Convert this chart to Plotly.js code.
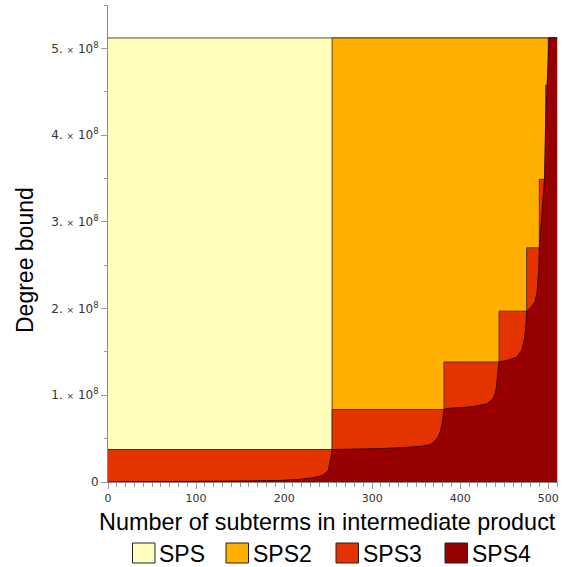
<!DOCTYPE html>
<html>
<head>
<meta charset="utf-8">
<script src="https://cdn.plot.ly/plotly-3.0.1.min.js"></script>
<style>html,body{margin:0;padding:0;background:#fff;}#chart{width:564px;height:567px;}</style>
</head>
<body>
<div id="chart"></div>
<script>
// ---- data ----
var seriesNames = ['SPS', 'SPS2', 'SPS3', 'SPS4'];
var seriesColors = ['#FFFFBB', '#FFB000', '#E53300', '#960000'];

// step series: edges (subterm index where each level starts, plus final end) and levels
var spsEdges = [0, 510];
var spsValues = [512e6];

var sps2Edges = [0, 254.5, 510];
var sps2Values = [37.4e6, 512e6];

var sps3Edges = [0, 254.5, 381.5, 444, 475.4, 489.8, 497, 500, 510];
var sps3Values = [37.4e6, 83.5e6, 138.4e6, 197e6, 270e6, 349e6, 457.5e6, 512e6];

// SPS4: sorted degree curve
var sps4X = [0, 60, 116, 160, 198, 218, 233, 244, 250, 252, 253.5, 254.5,
             280, 309, 330, 354, 365, 370, 375, 378, 380, 381.5,
             383, 411, 430, 437.5, 440.6, 442.5, 444,
             452.7, 464, 469.8, 472.7, 474.3, 475.4,
             479.2, 484.9, 487.5, 489, 489.8,
             492.4, 494, 495.6, 497, 498.2, 499.5, 500.8, 510];
var sps4Y = [0, 0.3e6, 0.8e6, 1.2e6, 1.9e6, 3.1e6, 5e6, 7.7e6, 13e6, 21e6, 30e6, 37.4e6,
             37.8e6, 38.5e6, 39.5e6, 41e6, 43e6, 46e6, 52e6, 60e6, 71e6, 83.5e6,
             84.7e6, 86.5e6, 90e6, 96e6, 106e6, 121e6, 138.4e6,
             140e6, 144e6, 152e6, 163e6, 179e6, 197e6,
             200e6, 208e6, 221e6, 244e6, 270e6,
             302e6, 325e6, 349e6, 417e6, 455.6e6, 490e6, 512e6, 512e6];

var xTickVals = [0, 100, 200, 300, 400, 500];
var yTickVals = [0, 1e8, 2e8, 3e8, 4e8, 5e8];
var yTickMantissa = ['0', '1.', '2.', '3.', '4.', '5.'];
var xTitle = 'Number of subterms in intermediate product';
var yTitle = 'Degree bound';

// ---- drawing ----
var yTickText = yTickMantissa.map(function (m, i) {
  return i === 0 ? m : m + ' <span style="font-size:9px">\u00d7</span> 10<sup>8</sup>';
});
function stepY(values) { return values.concat([values[values.length - 1]]); }
var outline = {color: 'rgba(70,40,15,0.85)', width: 1};

function stepTrace(name, color, edges, values) {
  return {
    type: 'scatter', mode: 'lines', name: name,
    x: edges, y: stepY(values),
    line: {shape: 'hv', color: outline.color, width: outline.width},
    fill: 'tozeroy', fillcolor: color,
    showlegend: false, hoverinfo: 'x+y+name'
  };
}

var traces = [
  stepTrace(seriesNames[0], seriesColors[0], spsEdges, spsValues),
  stepTrace(seriesNames[1], seriesColors[1], sps2Edges, sps2Values),
  stepTrace(seriesNames[2], seriesColors[2], sps3Edges, sps3Values),
  {
    type: 'scatter', mode: 'lines', name: seriesNames[3],
    x: sps4X, y: sps4Y,
    line: {shape: 'linear', color: 'rgba(60,0,0,0.9)', width: 1},
    fill: 'tozeroy', fillcolor: seriesColors[3],
    showlegend: false
  }
];

var W = 564, H = 567;
var M = {l: 108, r: 6, t: 5, b: 85};
var PW = W - M.l - M.r, PH = H - M.t - M.b;
function px2x(px) { return (px - M.l) / PW; }
function py2y(py) { return (H - M.b - py) / PH; }

var xTickFont = {family: 'DejaVu Sans', size: 11, color: '#333'};
var yTickFont = {family: 'DejaVu Sans', size: 12, color: '#333'};
var bigFont = {family: 'Liberation Sans, Arial, sans-serif', size: 23, color: '#000'};

// legend swatches/labels (pixel positions in the page)
var legendPos = [
  {x0: 132.5, x1: 155}, {x0: 226, x1: 248.5}, {x0: 336, x1: 358.5}, {x0: 445, x1: 467.5}
];
var legY0 = 543, legY1 = 563;

var shapes = [], annotations = [];
for (var i = 0; i < seriesNames.length; i++) {
  var p = legendPos[i];
  shapes.push({
    type: 'rect', xref: 'paper', yref: 'paper',
    x0: px2x(p.x0), x1: px2x(p.x1), y0: py2y(legY1), y1: py2y(legY0),
    fillcolor: seriesColors[i], line: {color: '#222', width: 1}
  });
  annotations.push({
    xref: 'paper', yref: 'paper', x: px2x(p.x1 + 2), y: py2y(553.5),
    xanchor: 'left', yanchor: 'middle', showarrow: false,
    text: seriesNames[i], font: bigFont
  });
}
annotations.push({
  xref: 'paper', yref: 'paper', x: px2x(327.5), y: py2y(522),
  xanchor: 'center', yanchor: 'middle', showarrow: false,
  text: xTitle, font: {family: bigFont.family, size: 23.4, color: '#000'}
});
annotations.push({
  xref: 'paper', yref: 'paper', x: px2x(25), y: py2y(260),
  xanchor: 'center', yanchor: 'middle', showarrow: false, textangle: -90,
  text: yTitle, font: bigFont
});

var layout = {
  width: W, height: H,
  margin: M,
  paper_bgcolor: '#fff', plot_bgcolor: '#fff',
  showlegend: false,
  xaxis: {
    range: [0, 511], showgrid: false, zeroline: false,
    showline: true, linecolor: '#888', linewidth: 1,
    tickvals: xTickVals, ticks: 'outside', ticklen: 6, tickcolor: '#999', tickwidth: 1,
    minor: {dtick: 10, tick0: 0, ticks: 'outside', ticklen: 3.5, tickcolor: '#999', showgrid: false},
    tickfont: xTickFont
  },
  yaxis: {
    range: [0, 5.5e8], showgrid: false, zeroline: false,
    showline: true, linecolor: '#888', linewidth: 1,
    tickmode: 'array', tickvals: yTickVals, ticktext: yTickText,
    ticks: 'outside', ticklen: 6, tickcolor: '#999', tickwidth: 1,
    minor: {dtick: 0.5e8, tick0: 0, ticks: 'outside', ticklen: 3.5, tickcolor: '#999', showgrid: false},
    tickfont: yTickFont
  },
  shapes: shapes,
  annotations: annotations
};

Plotly.newPlot('chart', traces, layout, {staticPlot: true, displayModeBar: false});
</script>
</body>
</html>
